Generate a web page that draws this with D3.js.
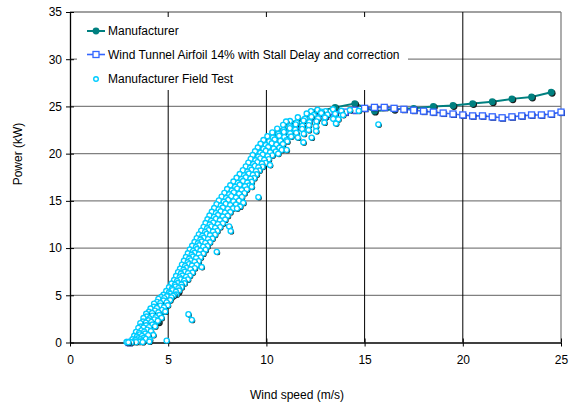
<!DOCTYPE html>
<html>
<head>
<meta charset="utf-8">
<script src="https://cdn.jsdelivr.net/npm/d3@7"></script>
<style>
  html, body { margin: 0; padding: 0; background: #fff; }
  svg { display: block; font-family: "Liberation Sans", Arial, sans-serif; }
</style>
</head>
<body>
<svg id="chart" width="576" height="406"></svg>
<script>
// Power curve: manufacturer, wind-tunnel airfoil model and field test
const xTicks = [0, 5, 10, 15, 20, 25];
const yTicks = [0, 5, 10, 15, 20, 25, 30, 35];

const mfrSpeed = [3.5, 4.5, 5.5, 6.5, 7.5, 8.5, 9.5, 10.5, 11.5, 12.5, 13.5, 14.5,
                  15.5, 16.5, 17.5, 18.5, 19.5, 20.5, 21.5, 22.5, 23.5, 24.5];
const mfrPower = [0.4, 2.2, 5.4, 9.4, 13.2, 16.9, 19.9, 22.0, 23.2, 24.4, 24.9, 25.3,
                  24.5, 24.7, 24.8, 25.0, 25.1, 25.3, 25.5, 25.8, 26.0, 26.5];

const wtSpeed = [3, 3.5, 4, 4.5, 5, 5.5, 6, 6.5, 7, 7.5, 8, 8.5, 9, 9.5, 10, 10.5, 11, 11.5,
                 12, 12.5, 13, 13.5, 14, 14.5, 15, 15.5, 16, 16.5, 17, 17.5, 18, 18.5, 19,
                 19.5, 20, 20.5, 21, 21.5, 22, 22.5, 23, 23.5, 24, 24.5, 25];
const wtPower = [0.0, 0.5, 1.5, 3.0, 4.6, 6.2, 8.0, 9.9, 11.7, 13.4, 15.0, 16.6, 18.1, 19.4,
                 20.4, 21.2, 22.1, 22.8, 23.3, 23.8, 24.0, 24.2, 24.4, 24.6, 24.8, 24.9, 24.9,
                 24.8, 24.7, 24.6, 24.5, 24.4, 24.3, 24.2, 24.1, 24.0, 24.0, 23.9, 23.8, 23.9,
                 24.0, 24.1, 24.1, 24.2, 24.4];

// Field test samples in the main band: [wind speed, power]
const fieldBand = [
  [2.88, 0.05], [2.97, 0.02], [3.04, 0.08], [3.12, 0.03], [3.2, 0.06], [3.28, 0.1], [3.36, 0.04],
  [3.44, 0.12], [3.53, 0.07], [3.62, 0.15], [3.7, 0.05],
  [3.18, 0.35], [3.33, 0.28], [3.47, 0.45], [3.58, 0.33], [3.76, 0.5], [3.86, 0.38],
  [3.27, 0.72], [3.41, 0.64], [3.55, 0.86], [3.67, 0.7], [3.83, 0.95], [3.98, 0.78],
  [3.36, 1.12], [3.52, 1.02], [3.63, 1.28], [3.78, 1.15], [3.93, 1.36], [4.12, 1.22],
  [3.48, 1.55], [3.6, 1.7], [3.74, 1.58], [3.88, 1.82], [4.02, 1.63], [4.2, 1.9], [4.33, 1.72],
  [3.58, 2.05], [3.72, 2.22], [3.86, 2.1], [4.0, 2.35], [4.14, 2.18], [4.3, 2.45], [4.47, 2.3],
  [3.74, 2.6], [3.9, 2.75], [4.05, 2.55], [4.2, 2.85], [4.36, 2.68], [4.55, 2.92], [4.66, 2.62],
  [3.88, 3.05], [4.02, 3.25], [4.18, 3.12], [4.33, 3.38], [4.5, 3.2], [4.68, 3.45], [4.85, 3.28],
  [4.1, 3.6], [4.26, 3.78], [4.42, 3.66], [4.6, 3.9], [4.78, 3.72], [4.98, 3.95],
  [4.28, 4.12], [4.44, 4.3], [4.6, 4.18], [4.76, 4.45], [4.92, 4.25], [5.1, 4.5],
  [4.5, 4.62], [4.64, 4.82], [4.8, 4.7], [4.98, 4.95], [5.16, 4.78], [5.32, 5.05],
  [4.76, 5.05], [4.93, 4.9], [5.1, 5.15], [5.25, 4.95], [5.42, 5.1],
  [4.9, 5.45], [5.04, 5.3], [5.22, 5.55], [5.39, 5.38], [5.55, 5.5],
  [5.04, 5.85], [5.19, 5.7], [5.37, 5.92], [5.52, 5.76], [5.68, 5.88],
  [5.17, 6.25], [5.34, 6.1], [5.49, 6.3], [5.67, 6.15], [5.83, 6.28],
  [5.3, 6.62], [5.45, 6.5], [5.63, 6.7], [5.81, 6.55], [6.0, 6.68],
  [5.4, 7.05], [5.58, 6.9], [5.72, 7.1], [5.91, 6.95], [6.1, 7.08],
  [5.5, 7.45], [5.65, 7.3], [5.84, 7.5], [6.01, 7.35], [6.24, 7.42],
  [5.6, 7.82], [5.78, 7.7], [5.93, 7.9], [6.13, 7.75], [6.35, 7.88],
  [5.7, 8.25], [5.86, 8.1], [6.05, 8.3], [6.21, 8.15], [6.45, 8.22],
  [5.8, 8.65], [5.99, 8.5], [6.14, 8.7], [6.34, 8.55], [6.55, 8.62],
  [5.9, 9.05], [6.07, 8.9], [6.26, 9.1], [6.42, 8.95], [6.65, 9.02],
  [6.0, 9.45], [6.19, 9.3], [6.35, 9.5], [6.56, 9.35], [6.78, 9.42],
  [6.1, 9.85], [6.27, 9.7], [6.47, 9.9], [6.64, 9.75], [6.9, 9.82],
  [6.22, 10.25], [6.41, 10.1], [6.57, 10.3], [6.78, 10.15], [7.0, 10.22],
  [6.34, 10.65], [6.51, 10.5], [6.71, 10.7], [6.89, 10.55], [7.12, 10.62],
  [6.45, 11.05], [6.64, 10.9], [6.81, 11.1], [7.03, 10.95], [7.25, 11.02],
  [6.56, 11.45], [6.74, 11.3], [6.95, 11.5], [7.13, 11.35], [7.38, 11.42],
  [6.68, 11.85], [6.88, 11.7], [7.05, 11.9], [7.28, 11.75], [7.5, 11.82],
  [6.8, 12.25], [6.98, 12.1], [7.19, 12.3], [7.39, 12.15], [7.64, 12.22],
  [6.9, 12.65], [7.11, 12.5], [7.29, 12.7], [7.53, 12.55], [7.78, 12.62],
  [7.0, 13.05], [7.19, 12.9], [7.43, 13.1], [7.63, 12.95], [7.9, 13.02],
  [7.1, 13.45], [7.33, 13.3], [7.53, 13.5], [7.78, 13.35], [8.03, 13.42],
  [7.22, 13.85], [7.43, 13.7], [7.67, 13.9], [7.89, 13.75], [8.16, 13.82],
  [7.34, 14.25], [7.57, 14.1], [7.78, 14.3], [8.04, 14.15], [8.3, 14.22],
  [7.46, 14.65], [7.68, 14.5], [7.93, 14.7], [8.16, 14.55], [8.45, 14.62],
  [7.58, 15.05], [7.83, 14.9], [8.05, 15.1], [8.32, 14.95], [8.6, 15.02],
  [7.72, 15.45], [7.95, 15.3], [8.21, 15.5], [8.45, 15.35], [8.75, 15.42],
  [7.86, 15.85], [8.11, 15.7], [8.34, 15.9], [8.61, 15.75], [8.88, 15.82],
  [8.0, 16.25], [8.24, 16.1], [8.51, 16.3], [8.74, 16.15], [9.0, 16.22],
  [8.16, 16.65], [8.41, 16.5], [8.64, 16.7], [8.91, 16.55], [9.12, 16.62],
  [8.32, 17.05], [8.55, 16.9], [8.81, 17.1], [9.03, 16.95], [9.25, 17.02],
  [8.48, 17.45], [8.73, 17.3], [8.95, 17.5], [9.19, 17.35], [9.38, 17.42],
  [8.64, 17.85], [8.87, 17.7], [9.11, 17.9], [9.31, 17.75], [9.5, 17.82],
  [8.8, 18.25], [9.04, 18.1], [9.24, 18.3], [9.47, 18.15], [9.64, 18.22],
  [8.95, 18.65], [9.17, 18.5], [9.41, 18.7], [9.59, 18.55], [9.8, 18.62],
  [9.08, 19.05], [9.33, 18.9], [9.54, 19.1], [9.77, 18.95], [9.96, 19.02],
  [9.2, 19.45], [9.44, 19.3], [9.69, 19.5], [9.89, 19.35], [10.12, 19.42],
  [9.3, 19.85], [9.59, 19.7], [9.81, 19.9], [10.06, 19.75], [10.3, 19.82],
  [9.42, 20.25], [9.69, 20.1], [9.97, 20.3], [10.19, 20.15], [10.48, 20.22],
  [9.56, 20.65], [9.85, 20.5], [10.09, 20.7], [10.37, 20.55], [10.66, 20.62],
  [9.7, 21.05], [9.97, 20.9], [10.27, 21.1], [10.51, 20.95], [10.84, 21.02],
  [9.85, 21.45], [10.15, 21.3], [10.42, 21.5], [10.71, 21.35], [11.02, 21.42],
  [10.05, 21.85], [10.33, 21.7], [10.65, 21.9], [10.91, 21.75], [11.26, 21.82], [11.6, 21.7],
  [10.3, 22.25], [10.61, 22.1], [10.89, 22.3], [11.21, 22.15], [11.52, 22.22], [11.9, 22.1],
  [10.55, 22.65], [10.87, 22.5], [11.19, 22.7], [11.47, 22.55], [11.82, 22.62], [12.15, 22.5],
  [10.85, 23.05], [11.19, 22.9], [11.49, 23.1], [11.83, 22.95], [12.16, 23.02], [12.52, 22.9],
  [11.2, 23.45], [11.54, 23.3], [11.89, 23.5], [12.19, 23.35], [12.55, 23.42], [12.95, 23.3],
  [11.6, 23.85], [11.96, 23.7], [12.29, 23.9], [12.63, 23.75], [12.98, 23.82], [13.4, 23.7],
  [12.05, 24.25], [12.41, 24.1], [12.79, 24.3], [13.11, 24.15], [13.5, 24.22], [13.9, 24.1],
  [12.6, 24.65], [13.01, 24.5], [13.39, 24.7], [13.81, 24.55], [14.25, 24.62], [14.7, 24.55]
];
// Scattered field test samples away from the main band: [wind speed, power]
const fieldOutliers = [
  [4.04, 0.1], [4.07, 0.3], [4.24, 0.8], [4.92, 0.2], [6.03, 3.0], [6.2, 2.4],
  [6.7, 8.0], [7.47, 9.6], [8.18, 11.8], [8.1, 12.3], [8.5, 14.2], [8.66, 14.4],
  [8.82, 14.8], [9.59, 15.4], [9.25, 16.5], [10.18, 18.8], [10.6, 20.0],
  [10.78, 20.4], [11.03, 20.4], [11.06, 21.3], [11.88, 21.2], [12.3, 21.7],
  [12.53, 22.4], [13.54, 23.2], [13.66, 23.65], [11.0, 23.4], [15.7, 23.1],
  [12.27, 24.5], [12.8, 24.45]
];

const seriesNames = ["Manufacturer", "Wind Tunnel Airfoil 14% with Stall Delay and correction", "Manufacturer Field Test"];
const colors = { mfr: "#008080", wt: "#3366ff", field: "#00ccff" };
const fontSize = 12;

const svg = d3.select("#chart");
const x = d3.scaleLinear().domain([0, 25]).range([70, 561]);
const y = d3.scaleLinear().domain([0, 35]).range([342.5, 12]);

// Plot frame and gridlines
const grid = svg.append("g");
grid.selectAll("line.h").data(yTicks.filter(d => d > 0)).join("line")
  .attr("x1", x(0)).attr("x2", x(25))
  .attr("y1", d => y(d)).attr("y2", d => y(d))
  .attr("stroke", "#808080").attr("stroke-width", 1.3);
grid.selectAll("line.v").data(xTicks.filter(d => d > 0 && d < 25)).join("line")
  .attr("x1", d => x(d)).attr("x2", d => x(d))
  .attr("y1", y(0)).attr("y2", y(35))
  .attr("stroke", "#000").attr("stroke-width", 1);
grid.append("line").attr("x1", x(25)).attr("x2", x(25)).attr("y1", y(0)).attr("y2", y(35))
  .attr("stroke", "#808080").attr("stroke-width", 1.3);

// Axes
const xAxis = d3.axisBottom(x).tickValues(xTicks).tickSizeInner(4).tickSizeOuter(0).tickPadding(9);
const yAxis = d3.axisLeft(y).tickValues(yTicks).tickSizeInner(4).tickSizeOuter(0).tickPadding(4);
const gx = svg.append("g").attr("transform", `translate(0,${y(0)})`).call(xAxis);
const gy = svg.append("g").attr("transform", `translate(${x(0)},0)`).call(yAxis);
[gx, gy].forEach(g => {
  g.select(".domain").attr("stroke", "#000").attr("stroke-width", 1.3);
  g.selectAll(".tick line").attr("stroke", "#000");
  g.selectAll(".tick text").attr("font-size", fontSize).attr("fill", "#000")
    .attr("font-family", "'Liberation Sans', Arial, sans-serif");
});
// ticks cross the axis line
gx.selectAll(".tick").append("line").attr("y1", 0).attr("y2", -4).attr("stroke", "#000");
gy.selectAll(".tick").append("line").attr("x1", 0).attr("x2", 4).attr("stroke", "#000");

// Axis titles
svg.append("text").attr("x", 297).attr("y", 399).attr("text-anchor", "middle")
  .attr("font-size", fontSize).text("Wind speed (m/s)");
svg.append("text").attr("transform", "translate(22,154) rotate(-90)").attr("text-anchor", "middle")
  .attr("font-size", fontSize).text("Power (kW)");

// Series
const mfr = mfrSpeed.map((s, i) => [s, mfrPower[i]]);
const wt = wtSpeed.map((s, i) => [s, wtPower[i]]);
// upper samples drawn first so the lower ones sit on top of their shadows
const field = fieldBand.concat(fieldOutliers).slice().sort((a, b) => b[1] - a[1] || a[0] - b[0]);
const line = d3.line().x(d => x(d[0])).y(d => y(d[1]));

const plot = svg.append("g");
plot.append("path").datum(mfr).attr("d", line).attr("fill", "none")
  .attr("stroke", colors.mfr).attr("stroke-width", 2);
const mg = plot.selectAll("g.m").data(mfr).join("g")
  .attr("transform", d => `translate(${x(d[0])},${y(d[1])})`);
mg.append("circle").attr("cx", 1).attr("cy", 1).attr("r", 3.4).attr("fill", "#1a1a1a");
mg.append("circle").attr("r", 3.4).attr("fill", colors.mfr);

plot.append("path").datum(wt).attr("d", line).attr("fill", "none")
  .attr("stroke", colors.wt).attr("stroke-width", 1.6);
const wg = plot.selectAll("g.w").data(wt).join("g")
  .attr("transform", d => `translate(${x(d[0])},${y(d[1])})`);
wg.append("rect").attr("x", -2).attr("y", -2).attr("width", 6).attr("height", 6).attr("fill", "#223377");
wg.append("rect").attr("x", -3).attr("y", -3).attr("width", 6).attr("height", 6)
  .attr("fill", "#fff").attr("stroke", colors.wt).attr("stroke-width", 1.3);

const fg = plot.selectAll("g.f").data(field).join("g")
  .attr("transform", d => `translate(${x(d[0])},${y(d[1])})`);
fg.append("circle").attr("cx", 0.9).attr("cy", 0.9).attr("r", 2.6).attr("fill", "#1a1a1a");
fg.append("circle").attr("r", 2.5).attr("fill", "#fff")
  .attr("stroke", colors.field).attr("stroke-width", 1.4);

// Legend
const lg = svg.append("g");
lg.append("rect").attr("x", 77).attr("y", 17).attr("width", 331).attr("height", 73).attr("fill", "#fff");
const rows = [31, 54.5, 79];
lg.append("line").attr("x1", 87).attr("x2", 105).attr("y1", rows[0]).attr("y2", rows[0])
  .attr("stroke", colors.mfr).attr("stroke-width", 2);
lg.append("circle").attr("cx", 96).attr("cy", rows[0]).attr("r", 3.4).attr("fill", colors.mfr);
lg.append("line").attr("x1", 87).attr("x2", 105).attr("y1", rows[1]).attr("y2", rows[1])
  .attr("stroke", colors.wt).attr("stroke-width", 1.6);
lg.append("rect").attr("x", 93).attr("y", rows[1] - 3).attr("width", 6).attr("height", 6)
  .attr("fill", "#fff").attr("stroke", colors.wt).attr("stroke-width", 1.3);
lg.append("circle").attr("cx", 96).attr("cy", rows[2]).attr("r", 2.3).attr("fill", "#fff")
  .attr("stroke", colors.field).attr("stroke-width", 1.4);
lg.selectAll("text").data(seriesNames).join("text")
  .attr("x", 108).attr("y", (d, i) => rows[i] + 4).attr("font-size", fontSize).text(d => d);
</script>
</body>
</html>
